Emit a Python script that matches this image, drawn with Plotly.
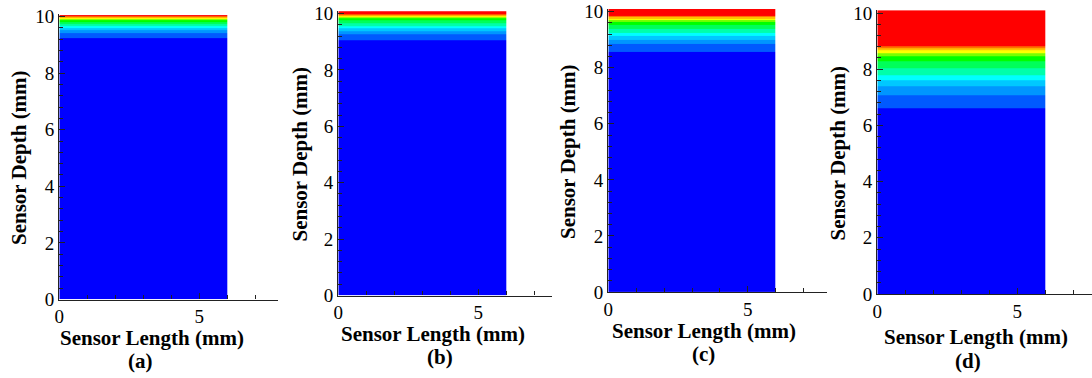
import plotly.graph_objects as go

W, H = 1092, 378

# Depth (mm) of the boundaries between the 13 colour bands (bottom -> top)
band_edges_a = [0, 9.25, 9.41, 9.51, 9.59, 9.65, 9.73, 9.81, 9.87, 9.91, 9.94, 9.97, 10.0, 10.05]
band_edges_b = [0, 9.06, 9.26, 9.38, 9.48, 9.55, 9.65, 9.75, 9.82, 9.87, 9.91, 9.94, 9.98, 10.08]
band_edges_c = [0, 8.55, 8.85, 9.01, 9.13, 9.23, 9.38, 9.52, 9.62, 9.69, 9.76, 9.81, 9.86, 10.1]
band_edges_d = [0, 6.61, 7.08, 7.38, 7.62, 7.79, 8.03, 8.27, 8.45, 8.56, 8.66, 8.74, 8.83, 10.1]
band_level = list(range(13))
sensor_length_edges = [0, 6]

band_colors = ["#0000ff", "#005aff", "#0096ff", "#00c8ff", "#00ffff", "#00ffaa", "#00ff5a",
               "#00ff00", "#78ff00", "#ffff00", "#ffbe00", "#ff6e00", "#ff0000"]
colorscale = [[i / 12, c] for i, c in enumerate(band_colors)]

panel_labels = ["(a)", "(b)", "(c)", "(d)"]
x_title = "Sensor Length (mm)"
y_title = "Sensor Depth (mm)"

# layout geometry in pixels: x origin, px/unit x, x range max, y origin, px/unit y
panels = [
    dict(x0=59.3, ux=28.0, xr=7.8, y0=299.5, uy=28.3, edges=band_edges_a, xt=(152, 337.5), lt=(140, 361), yt=(19, 158)),
    dict(x0=338.3, ux=28.0, xr=7.63, y0=295.5, uy=28.2, edges=band_edges_b, xt=(433, 334), lt=(440, 357), yt=(299, 154.5)),
    dict(x0=608.3, ux=27.9, xr=7.83, y0=292.0, uy=28.03, edges=band_edges_c, xt=(704, 331), lt=(703, 354), yt=(568, 152)),
    dict(x0=877.3, ux=28.0, xr=7.67, y0=294.0, uy=28.1, edges=band_edges_d, xt=(976, 337), lt=(968, 361), yt=(837, 153.5)),
]

serif = "Liberation Serif, Times New Roman, Tinos, DejaVu Serif, serif"
fig = go.Figure()
annotations = []
for i, p in enumerate(panels):
    n = "" if i == 0 else str(i + 1)
    fig.add_trace(go.Heatmap(
        x=sensor_length_edges, y=p["edges"], z=[[v] for v in band_level],
        colorscale=colorscale, zmin=0, zmax=12, showscale=False, hoverinfo="skip",
        xaxis="x" + n, yaxis="y" + n))
    ymax = 10.1
    xd = [p["x0"] / W, min(1.0, (p["x0"] + p["xr"] * p["ux"]) / W)]
    yd = [(H - p["y0"]) / H, (H - (p["y0"] - ymax * p["uy"])) / H]
    axis_common = dict(showline=True, linecolor="#222", linewidth=1.3, ticks="inside",
                       tickcolor="#222", tickwidth=1.2, showgrid=False, zeroline=False,
                       automargin=False,
                       tickfont=dict(family=serif, size=19, color="black"))
    fig.layout["xaxis" + n] = dict(axis_common, domain=xd, range=[0, p["xr"]], dtick=5, tick0=0,
                                   ticklen=6, anchor="y" + n,
                                   minor=dict(ticks="inside", dtick=1, ticklen=4, tickcolor="#222"))
    fig.layout["yaxis" + n] = dict(axis_common, domain=yd, range=[0, ymax], dtick=2, tick0=0,
                                   ticklen=6, anchor="x" + n,
                                   minor=dict(ticks="inside", dtick=0.4, ticklen=4, tickcolor="#222"))
    annotations.append(dict(text="<b>" + x_title + "</b>", x=p["xt"][0] / W, y=1 - p["xt"][1] / H,
                            xref="paper", yref="paper", showarrow=False, xanchor="center", yanchor="middle",
                            font=dict(family=serif, size=21, color="black")))
    annotations.append(dict(text="<b>" + panel_labels[i] + "</b>", x=p["lt"][0] / W, y=1 - p["lt"][1] / H,
                            xref="paper", yref="paper", showarrow=False, xanchor="center", yanchor="middle",
                            font=dict(family=serif, size=21, color="black")))
    annotations.append(dict(text="<b>" + y_title + "</b>", x=p["yt"][0] / W, y=1 - p["yt"][1] / H,
                            xref="paper", yref="paper", showarrow=False, xanchor="center", yanchor="middle",
                            textangle=-90, font=dict(family=serif, size=21, color="black")))

fig.update_layout(width=W, height=H, margin=dict(l=0, r=0, t=0, b=0, pad=0, autoexpand=False),
                  paper_bgcolor="white", plot_bgcolor="white", showlegend=False,
                  font=dict(family=serif),
                  annotations=annotations)
fig.write_html("out.html")
